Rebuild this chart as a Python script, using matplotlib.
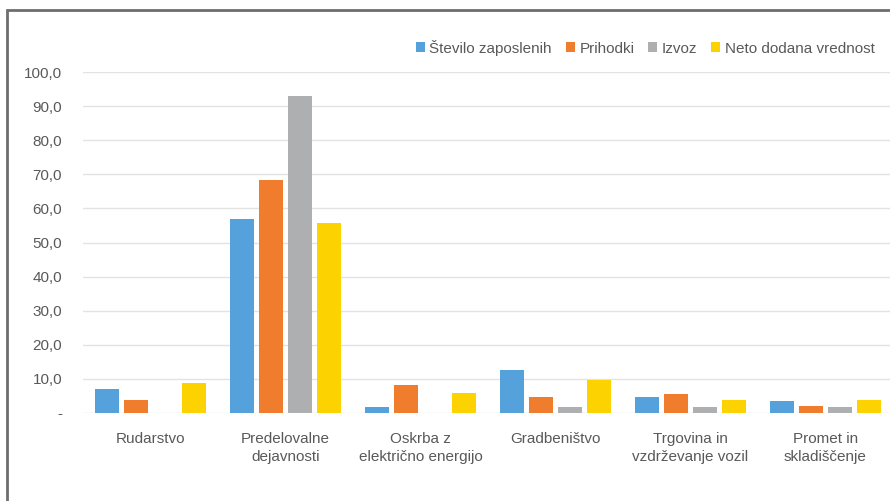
import numpy as np
import matplotlib
matplotlib.use("Agg")
import matplotlib.pyplot as plt
from matplotlib.patches import Rectangle

plt.rcParams['font.family'] = ['Liberation Sans', 'DejaVu Sans']

categories = ["Rudarstvo", "Predelovalne\ndejavnosti", "Oskrba z\nelektrično energijo",
              "Gradbeništvo", "Trgovina in\nvzdrževanje vozil", "Promet in\nskladiščenje"]
series_names = ["Število zaposlenih", "Prihodki", "Izvoz", "Neto dodana vrednost"]
zaposleni = [6.9, 57.0, 1.7, 12.6, 4.6, 3.4]
prihodki = [3.7, 68.3, 8.2, 4.8, 5.5, 2.1]
izvoz = [0.0, 93.0, 0.0, 1.7, 1.7, 1.7]
neto = [8.8, 55.8, 5.8, 9.7, 3.7, 3.7]
yticks = [0, 10, 20, 30, 40, 50, 60, 70, 80, 90, 100]
ytick_labels = ["-", "10,0", "20,0", "30,0", "40,0", "50,0", "60,0", "70,0", "80,0", "90,0", "100,0"]

colors = ["#55A1DC", "#EF7D2D", "#ADAFB1", "#FCD200"]
text_col = "#595959"

fig = plt.figure(figsize=(8.9, 5.01), dpi=100)
ax = fig.add_axes([83 / 890, 88 / 501, 810 / 890, 341 / 501])

x = np.arange(len(categories))
pitch = 0.215
width = 0.178
for i, (vals, name) in enumerate(zip([zaposleni, prihodki, izvoz, neto], series_names)):
    ax.bar(x + (i - 1.5) * pitch, vals, width, color=colors[i], label=name, zorder=3)

ax.set_xlim(-0.5, len(categories) - 0.5)
ax.set_ylim(0, 100)
ax.set_yticks(yticks)
ax.set_yticklabels(ytick_labels)
ax.set_xticks(x)
ax.set_xticklabels(categories, linespacing=1.35)
ax.tick_params(axis='both', length=0, labelsize=11, labelcolor=text_col)
ax.tick_params(axis='x', pad=14)
ax.tick_params(axis='y', pad=15)
ax.grid(axis='y', color="#E3E3E3", linewidth=1, zorder=0)
for s in ax.spines.values():
    s.set_visible(False)

leg = ax.legend(loc='lower right', bbox_to_anchor=(0.985, 1.03), ncol=4, frameon=False,
                fontsize=11, handlelength=0.6, handleheight=0.6, handletextpad=0.3,
                columnspacing=0.9, borderaxespad=0)
for t in leg.get_texts():
    t.set_color(text_col)

# border of the figure box (only left and top edges visible)
fig.add_artist(Rectangle((7 / 890, -0.1), 1.2, (501 - 10) / 501 + 0.1,
                         transform=fig.transFigure, fill=False,
                         edgecolor="#6E6E6E", linewidth=2))

fig.savefig("out.png", dpi=100)
